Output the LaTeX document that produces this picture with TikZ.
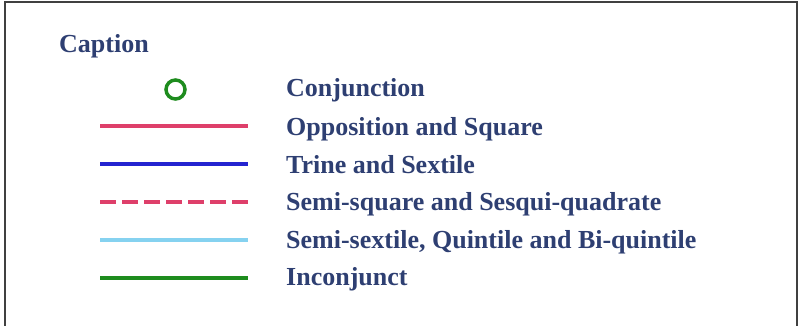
\documentclass[tikz,border=0pt]{standalone}
\usepackage{fontspec}
\setmainfont{Liberation Serif}
\definecolor{captext}{HTML}{2E3F72}
\definecolor{oppred}{HTML}{DE3F6A}
\definecolor{trineblue}{HTML}{2424D0}
\definecolor{semiblue}{HTML}{86D2F0}
\definecolor{incgreen}{HTML}{1E8C1E}
\tikzset{
  label/.style={anchor=west,inner sep=0pt,text=captext,font=\fontsize{26}{30}\selectfont\bfseries},
  swatch/.style={line width=3.5pt}
}
\begin{document}
\begin{tikzpicture}[x=1pt,y=-1pt]
            \useasboundingbox (0,0) rectangle (799,326);
            \draw[black!75,line width=2pt] (5,326) -- (5,2.5) -- (797,2.5) -- (797,326);
            \node[label] (caption) at (59,46) {Caption};
            \draw[incgreen,line width=3.5pt] (175.5,89.5) circle (9.5pt);
            \draw[swatch,oppred] (100,126) -- (248,126);
            \draw[swatch,trineblue] (100,164) -- (248,164);
            \draw[swatch,oppred,dash pattern=on 15.5pt off 6.5pt] (100,202) -- (248,202);
            \draw[swatch,semiblue] (100,240) -- (248,240);
            \draw[swatch,incgreen] (100,278) -- (248,278);
            \node[label] (conj) at (286,90) {Conjunction};
            \node[label] (opp) at (286,129) {Opposition and Square};
            \node[label] (trine) at (286,165) {Trine and Sextile};
            \node[label] (semisq) at (286,204) {Semi-square and Sesqui-quadrate};
            \node[label] (semisx) at (286,242) {Semi-sextile, Quintile and Bi-quintile};
            \node[label] (inconj) at (286,279) {Inconjunct};
        \end{tikzpicture}
\end{document}
